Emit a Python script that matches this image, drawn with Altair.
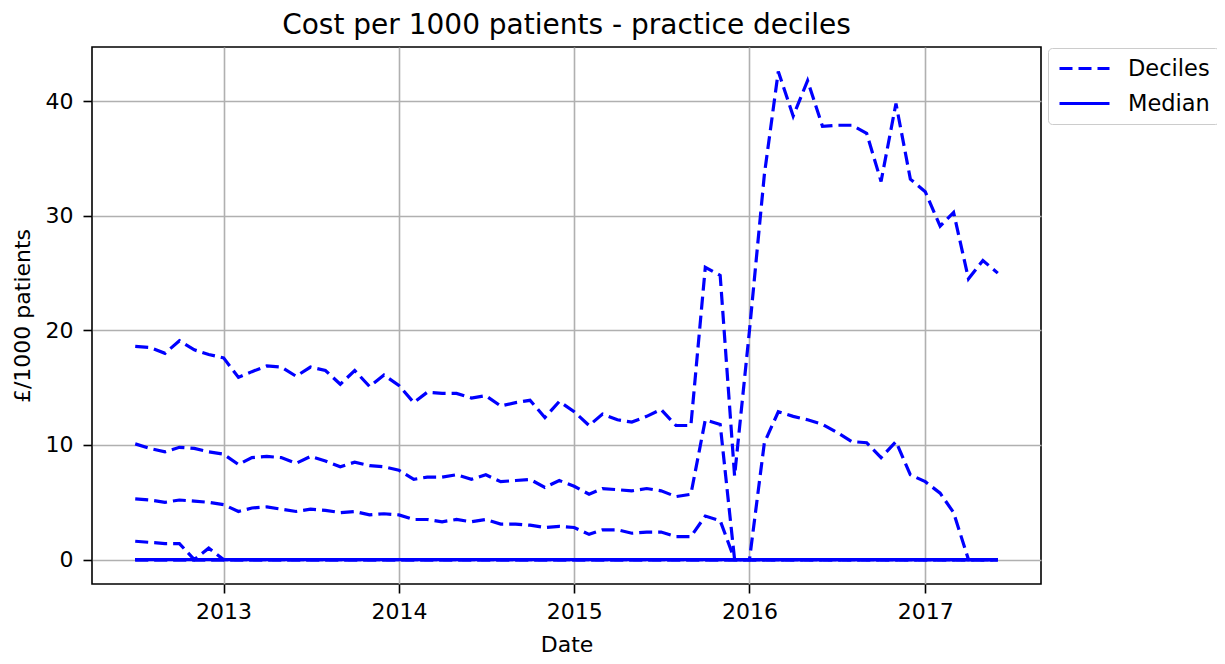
import altair as alt
import pandas as pd

# Monthly dates Jul 2012 .. Jun 2017
months = pd.date_range("2012-07-01", periods=60, freq="MS").strftime("%Y-%m-%d").tolist()

p90 = [18.6, 18.5, 18.0, 19.1, 18.3, 17.9, 17.6, 15.9, 16.4, 16.9, 16.8, 16.0,
       16.8, 16.5, 15.3, 16.5, 15.1, 16.1, 15.2, 13.7, 14.6, 14.5, 14.5, 14.1,
       14.3, 13.4, 13.7, 13.9, 12.4, 13.8, 12.9, 11.7, 12.7, 12.2, 12.0, 12.5,
       13.1, 11.7, 11.7, 25.5, 24.8, 7.3, 20.0, 33.6, 42.6, 38.7, 41.8, 37.8,
       37.9, 37.9, 37.2, 33.0, 39.8, 33.2, 32.1, 29.1, 30.3, 24.5, 26.1, 25.0]
p80 = [10.1, 9.7, 9.4, 9.8, 9.7, 9.4, 9.2, 8.3, 8.9, 9.0, 8.9, 8.4,
       9.0, 8.6, 8.1, 8.5, 8.2, 8.1, 7.8, 7.0, 7.2, 7.2, 7.4, 7.0,
       7.4, 6.8, 6.9, 7.0, 6.3, 6.9, 6.4, 5.7, 6.2, 6.1, 6.0, 6.2,
       6.0, 5.5, 5.7, 12.2, 11.8, 0.0, 0.0, 10.2, 12.9, 12.5, 12.2, 11.8,
       11.1, 10.3, 10.2, 8.9, 10.3, 7.4, 6.8, 5.8, 4.1, 0.0, 0.0, 0.0]
p70 = [5.3, 5.2, 5.0, 5.2, 5.1, 5.0, 4.8, 4.2, 4.5, 4.6, 4.4, 4.2,
       4.4, 4.3, 4.1, 4.2, 3.9, 4.0, 3.9, 3.5, 3.5, 3.3, 3.5, 3.3,
       3.5, 3.1, 3.1, 3.0, 2.8, 2.9, 2.8, 2.2, 2.6, 2.6, 2.3, 2.4,
       2.4, 2.0, 2.0, 3.8, 3.4, 0.0, 0.0, 0.0, 0.0, 0.0, 0.0, 0.0,
       0.0, 0.0, 0.0, 0.0, 0.0, 0.0, 0.0, 0.0, 0.0, 0.0, 0.0, 0.0]
p60 = [1.6, 1.5, 1.4, 1.4, 0.0, 1.0, 0.0, 0.0, 0.0, 0.0, 0.0, 0.0,
       0.0, 0.0, 0.0, 0.0, 0.0, 0.0, 0.0, 0.0, 0.0, 0.0, 0.0, 0.0,
       0.0, 0.0, 0.0, 0.0, 0.0, 0.0, 0.0, 0.0, 0.0, 0.0, 0.0, 0.0,
       0.0, 0.0, 0.0, 0.0, 0.0, 0.0, 0.0, 0.0, 0.0, 0.0, 0.0, 0.0,
       0.0, 0.0, 0.0, 0.0, 0.0, 0.0, 0.0, 0.0, 0.0, 0.0, 0.0, 0.0]
p10 = [0.0] * 60
p20 = [0.0] * 60
p30 = [0.0] * 60
p40 = [0.0] * 60
median = [0.0] * 60

decile_series = {"p10": p10, "p20": p20, "p30": p30, "p40": p40,
                 "p60": p60, "p70": p70, "p80": p80, "p90": p90}

rows = []
for name, vals in decile_series.items():
    for m, v in zip(months, vals):
        rows.append({"date": m, "series": name, "kind": "Deciles", "value": v})
for m, v in zip(months, median):
    rows.append({"date": m, "series": "p50", "kind": "Median", "value": v})
df = pd.DataFrame(rows)

FONT = "DejaVu Sans"
BLUE = "#0000ff"

x_enc = alt.X(
    "date:T",
    scale=alt.Scale(type="utc",
                    domain=[alt.DateTime(year=2012, month=4, date=2, utc=True),
                            alt.DateTime(year=2017, month=8, date=30, utc=True)]),
    axis=alt.Axis(values=[alt.DateTime(year=y, month=1, date=1, utc=True) for y in range(2013, 2018)],
                  format="%Y", formatType="utc", title="Date",
                  labelPadding=8, titleX=474.5, titleY=60,
                  titleBaseline="middle", titleAlign="center"),
)
y_enc = alt.Y(
    "value:Q",
    scale=alt.Scale(domain=[-2.13, 44.73], nice=False, zero=False),
    axis=alt.Axis(values=[0, 10, 20, 30, 40], title="£/1000 patients",
                  labelPadding=10, titleX=-70, titleY=268.5, titleAngle=270,
                  titleBaseline="middle", titleAlign="center"),
)
dash_enc = alt.StrokeDash(
    "kind:N",
    scale=alt.Scale(domain=["Deciles", "Median"], range=[[13, 6], [1, 0]]),
    legend=alt.Legend(title=None, orient="none", legendX=956, legendY=1,
                      symbolType="M-2.5,0H2.5", symbolSize=400, symbolStrokeWidth=3,
                      symbolStrokeColor=BLUE, symbolOffset=16, labelOffset=32,
                      labelFontSize=22.5, labelFont=FONT, labelColor="black",
                      padding=9, rowPadding=12, strokeColor="#cccccc",
                      fillColor="white", cornerRadius=4),
)

base = alt.Chart(df)
deciles = base.transform_filter(alt.datum.kind == "Deciles").mark_line(
    color=BLUE, strokeWidth=3.2
).encode(x=x_enc, y=y_enc, strokeDash=dash_enc, detail="series:N")
med = base.transform_filter(alt.datum.kind == "Median").mark_line(
    color=BLUE, strokeWidth=3.2
).encode(x=x_enc, y=y_enc, strokeDash=dash_enc, detail="series:N")

chart = alt.layer(deciles, med).properties(
    width=949,
    height=537,
    title=alt.TitleParams("Cost per 1000 patients - practice deciles",
                          font=FONT, fontSize=28, fontWeight="normal",
                          color="black", anchor="middle", offset=7),
    autosize=alt.AutoSizeParams(type="none"),
    padding={"left": 84, "top": 39, "right": 176, "bottom": 72},
).configure_view(
    stroke="black", strokeWidth=1.6
).configure_axis(
    grid=True, gridColor="#b0b0b0", gridWidth=1.6,
    domain=False, tickColor="black", tickWidth=1.6, tickSize=9,
    labelFont=FONT, labelFontSize=22, labelColor="black",
    titleFont=FONT, titleFontSize=22, titleFontWeight="normal", titleColor="black",
)

chart.save("out.html", embed_options={"renderer": "svg", "actions": False})
